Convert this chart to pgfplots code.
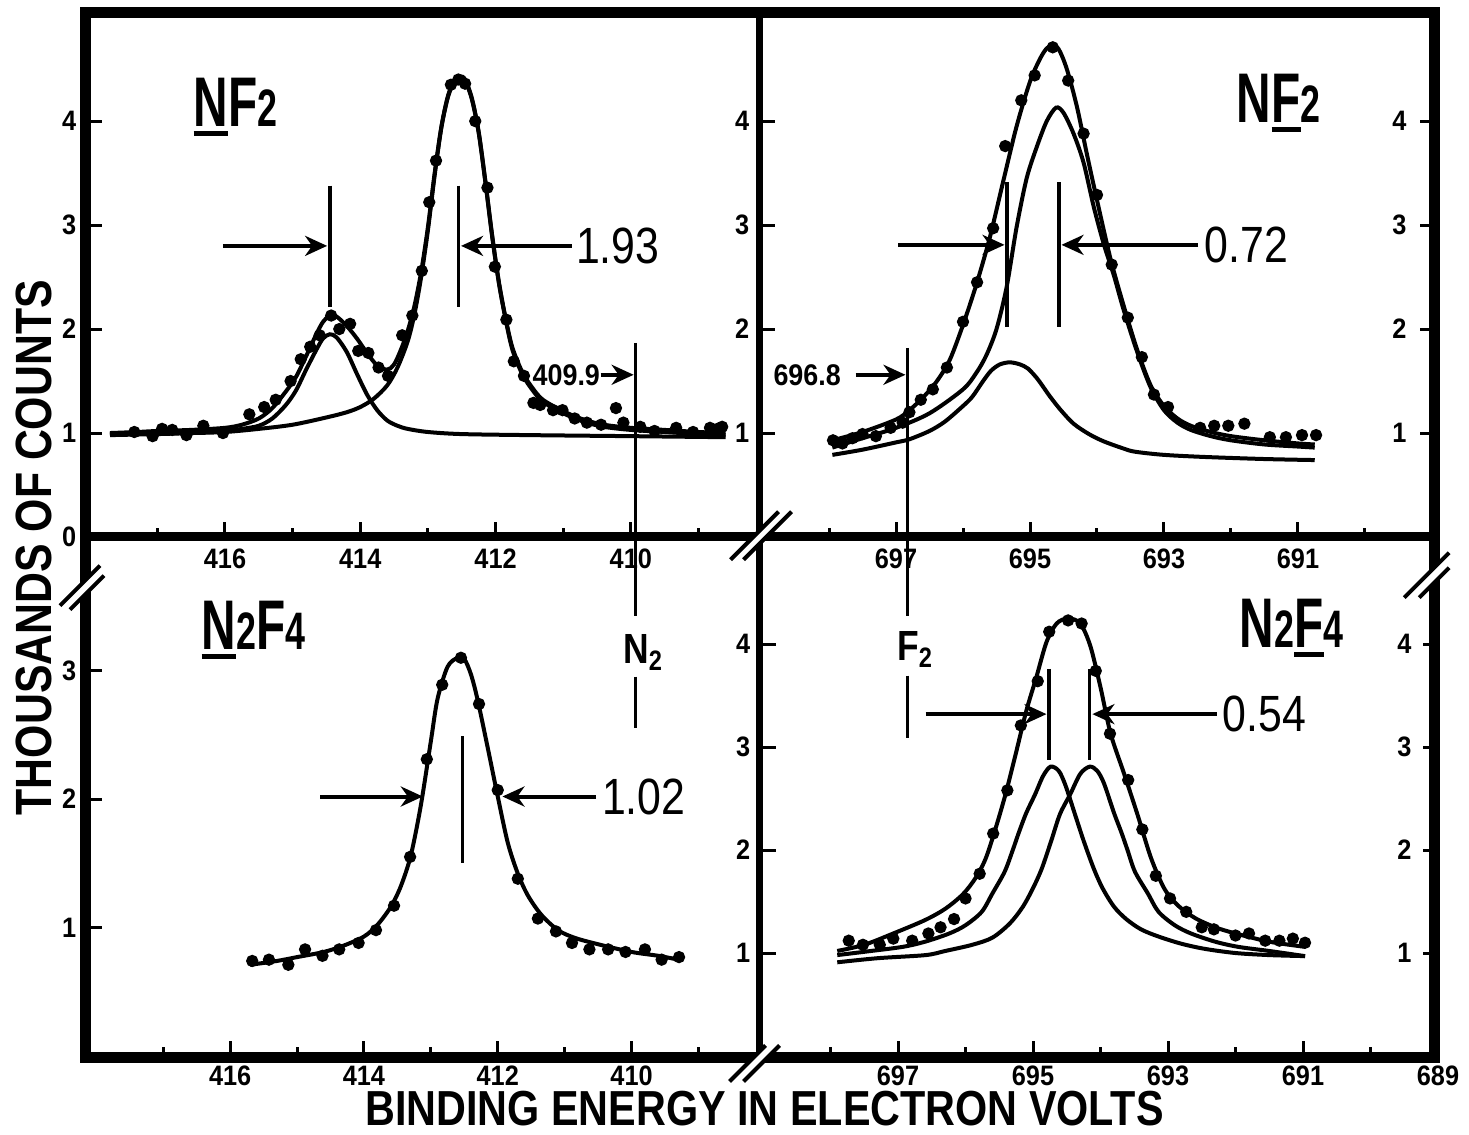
\documentclass[border=0pt]{standalone}
\usepackage{pgfplots}
\pgfplotsset{compat=1.18}
\usepackage{fontspec}
\setmainfont{Liberation Sans}
\newfontfamily\fTick[FakeStretch=0.9]{Liberation Sans}
\newfontfamily\fTitle[FakeStretch=0.68]{Liberation Sans}
\newfontfamily\fBig[FakeStretch=0.84]{Liberation Sans}
\usetikzlibrary{arrows.meta}
\newcommand\ul[1]{\setbox0\hbox{#1}\rlap{\rule[-0.09cm]{\wd0}{0.045cm}}\box0}
\newcommand\sm[1]{{\fontsize{15}{15}\selectfont #1}}
\tikzset{
  arr/.style={line width=0.04cm, -{Stealth[length=0.22cm,width=0.2cm,inset=0.07cm]}},
  ann/.style={line width=0.035cm},
}
\pgfplotsset{
  panel/.style={
    scale only axis, anchor=south west, x dir=reverse, clip=false,
    axis line style={draw=none},
    tick align=inside,
    major tick length=0.15cm, minor tick length=0.09cm,
    tick style={line width=0.03cm, black},
    xtick pos=left, ytick pos=left,
    /pgf/number format/assume math mode=true,
    tick label style={font=\fTick\bfseries\fontsize{8}{8}\selectfont, inner sep=0pt},
    xticklabel style={yshift=-0.11cm},
    yticklabel style={xshift=-0.1cm},
    scaled ticks=false,
  },
  curve/.style={black, line width=0.04cm, no markers, smooth, tension=0.5},
  dots/.style={only marks, mark=*, mark size=1.55pt, black},
}
\begin{document}
\begin{tikzpicture}
\path[use as bounding box] (0,0) rectangle (14.69,-11.34);

% ---------------- top left: NF2, N 1s
\begin{axis}[panel, at={(0.87cm,-5.37cm)}, width=6.73cm, height=5.24cm,
  xmin=408.09, xmax=418.04, ymin=0, ymax=5.04,
  xtick={410,412,414,416}, minor xtick={409,411,413,415,417},
  ytick={0,1,2,3,4}]
\addplot[curve] coordinates {(417.7,1.00)(417.3,1.01)(417.0,1.02)(416.5,1.03)(416.0,1.05)(415.75,1.08)(415.5,1.14)(415.3,1.24)(415.1,1.40)(414.95,1.54)(414.8,1.74)(414.65,1.95)(414.55,2.07)(414.45,2.13)(414.35,2.12)(414.2,2.03)(414.05,1.91)(413.9,1.77)(413.75,1.65)(413.6,1.61)(413.5,1.66)(413.4,1.80)(413.3,1.98)(413.2,2.22)(413.1,2.55)(413.0,2.98)(412.9,3.50)(412.8,3.95)(412.7,4.25)(412.6,4.40)(412.52,4.43)(412.45,4.40)(412.35,4.22)(412.25,3.90)(412.15,3.42)(412.05,2.90)(411.95,2.45)(411.85,2.10)(411.75,1.82)(411.6,1.58)(411.45,1.43)(411.3,1.32)(411.0,1.21)(410.7,1.13)(410.4,1.08)(410.0,1.05)(409.5,1.03)(409.0,1.01)(408.6,1.00)};
\addplot[curve] coordinates {(417.7,0.99)(417.0,1.00)(416.5,1.00)(416.0,1.01)(415.5,1.04)(415.0,1.08)(414.5,1.15)(414.2,1.20)(414.0,1.25)(413.8,1.33)(413.6,1.46)(413.45,1.63)(413.3,1.88)(413.2,2.14)(413.1,2.50)(413.0,2.95)(412.9,3.48)(412.8,3.94)(412.7,4.24)(412.6,4.39)(412.52,4.42)(412.45,4.39)(412.35,4.21)(412.25,3.89)(412.15,3.41)(412.05,2.89)(411.95,2.44)(411.85,2.09)(411.75,1.80)(411.6,1.56)(411.45,1.41)(411.3,1.30)(411.0,1.19)(410.7,1.11)(410.4,1.06)(410.0,1.03)(409.5,1.01)(409.0,0.99)(408.6,0.98)};
\addplot[curve] coordinates {(417.7,0.98)(417.0,0.99)(416.5,1.00)(416.0,1.02)(415.75,1.04)(415.5,1.07)(415.3,1.14)(415.1,1.27)(414.95,1.41)(414.8,1.61)(414.65,1.80)(414.55,1.91)(414.45,1.95)(414.35,1.92)(414.2,1.78)(414.05,1.57)(413.9,1.37)(413.75,1.22)(413.6,1.12)(413.45,1.07)(413.3,1.04)(413.0,1.01)(412.5,0.99)(411.5,0.98)(410.0,0.97)(408.6,0.96)};
\addplot[dots] coordinates {(417.34,1.01)(417.07,0.97)(416.93,1.04)(416.78,1.03)(416.57,0.98)(416.32,1.07)(416.03,1.00)(415.64,1.18)(415.42,1.25)(415.25,1.32)(415.03,1.50)(414.88,1.71)(414.74,1.83)(414.60,1.94)(414.43,2.13)(414.31,2.00)(414.15,2.05)(414.03,1.79)(413.88,1.77)(413.73,1.63)(413.59,1.55)(413.38,1.94)(413.23,2.13)(413.09,2.56)(412.98,3.22)(412.88,3.62)(412.66,4.35)(412.55,4.40)(412.45,4.36)(412.30,4.00)(412.12,3.36)(412.01,2.60)(411.84,2.09)(411.73,1.69)(411.58,1.55)(411.44,1.29)(411.34,1.27)(411.15,1.22)(411.01,1.22)(410.83,1.14)(410.65,1.10)(410.44,1.08)(410.22,1.24)(410.11,1.10)(409.86,1.06)(409.65,1.02)(409.33,1.05)(409.08,1.01)(408.83,1.05)(408.72,1.04)(408.65,1.06)};
\draw[ann] (axis cs:414.45,3.38) -- (axis cs:414.45,2.21);
\draw[ann] (axis cs:412.55,3.38) -- (axis cs:412.55,2.21);
\draw[arr] (axis cs:416.03,2.80) -- (axis cs:414.49,2.80);
\draw[arr] (axis cs:410.87,2.80) -- (axis cs:412.51,2.80);
\node[anchor=west, inner sep=0pt, font=\fBig\fontsize{14.5}{14.5}\selectfont] at (axis cs:410.82,2.80) {1.93};
\end{axis}

% ---------------- top right: NF2, F 1s
\begin{axis}[panel, at={(7.60cm,-5.37cm)}, width=6.75cm, height=5.24cm,
  xmin=688.955, xmax=699.03, ymin=0, ymax=5.04, ytick pos=both, yticklabel pos=left,
  xtick={691,693,695,697}, minor xtick={690,692,694,696,698},
  ytick={1,2,3,4}]
\addplot[curve] coordinates {(697.95,0.93)(697.5,1.01)(697.0,1.13)(696.8,1.22)(696.6,1.34)(696.4,1.49)(696.2,1.70)(696.0,2.04)(695.8,2.43)(695.6,2.88)(695.4,3.42)(695.2,3.95)(695.0,4.38)(694.85,4.60)(694.75,4.70)(694.66,4.73)(694.57,4.69)(694.45,4.50)(694.3,4.14)(694.15,3.68)(694.0,3.24)(693.8,2.68)(693.6,2.22)(693.4,1.80)(693.2,1.46)(693.0,1.26)(692.8,1.14)(692.6,1.07)(692.3,1.01)(692.0,0.97)(691.5,0.93)(691.0,0.90)(690.75,0.89)};
\addplot[curve] coordinates {(697.95,0.86)(697.5,0.95)(697.0,1.05)(696.5,1.19)(696.0,1.42)(695.8,1.58)(695.65,1.75)(695.5,2.00)(695.35,2.40)(695.2,2.98)(695.05,3.45)(694.9,3.75)(694.75,4.00)(694.61,4.13)(694.5,4.08)(694.35,3.88)(694.2,3.60)(694.05,3.18)(693.9,2.82)(693.75,2.52)(693.6,2.18)(693.4,1.78)(693.2,1.44)(693.0,1.22)(692.8,1.10)(692.6,1.03)(692.3,0.97)(692.0,0.93)(691.5,0.89)(691.0,0.87)(690.75,0.86)};
\addplot[curve] coordinates {(697.95,0.79)(697.5,0.84)(697.0,0.91)(696.8,0.94)(696.5,1.02)(696.27,1.11)(696.0,1.26)(695.86,1.35)(695.7,1.50)(695.58,1.60)(695.45,1.66)(695.3,1.68)(695.15,1.66)(695.03,1.62)(694.9,1.53)(694.82,1.46)(694.7,1.35)(694.54,1.22)(694.35,1.09)(694.12,0.99)(693.9,0.92)(693.6,0.85)(693.43,0.82)(693.0,0.79)(692.4,0.77)(691.5,0.75)(690.75,0.74)};
\addplot[dots] coordinates {(697.94,0.93)(697.80,0.90)(697.65,0.95)(697.50,0.99)(697.30,0.97)(697.08,1.05)(696.90,1.10)(696.80,1.20)(696.63,1.32)(696.45,1.42)(696.24,1.63)(696.00,2.07)(695.79,2.45)(695.55,2.97)(695.37,3.76)(695.13,4.20)(694.93,4.44)(694.66,4.71)(694.43,4.39)(694.20,3.88)(694.00,3.29)(693.78,2.62)(693.54,2.11)(693.33,1.73)(693.15,1.37)(692.94,1.25)(692.46,1.05)(692.25,1.07)(692.04,1.07)(691.80,1.09)(691.42,0.96)(691.18,0.96)(690.94,0.98)(690.73,0.98)};
\draw[ann] (axis cs:695.34,3.41) -- (axis cs:695.34,2.02);
\draw[ann] (axis cs:694.57,3.41) -- (axis cs:694.57,2.02);
\draw[arr] (axis cs:696.97,2.81) -- (axis cs:695.38,2.81);
\draw[arr] (axis cs:692.49,2.81) -- (axis cs:694.53,2.81);
\node[anchor=west, inner sep=0pt, font=\fBig\fontsize{14.5}{14.5}\selectfont] at (axis cs:692.40,2.81) {0.72};
\end{axis}

% ---------------- bottom left: N2F4, N 1s
\begin{axis}[panel, at={(0.87cm,-10.56cm)}, width=6.73cm, height=5.19cm,
  xmin=408.08, xmax=418.14, ymin=0, ymax=4.04,
  xtick={410,412,414,416}, minor xtick={409,411,413,415,417},
  ytick={1,2,3}, xticklabel style={yshift=0.02cm}]
\addplot[curve] coordinates {(415.7,0.71)(415.3,0.74)(415.0,0.77)(414.6,0.81)(414.3,0.86)(414.0,0.93)(413.8,1.02)(413.6,1.16)(413.45,1.32)(413.3,1.56)(413.15,1.95)(413.0,2.45)(412.9,2.78)(412.75,3.03)(412.6,3.10)(412.5,3.09)(412.4,2.97)(412.3,2.77)(412.15,2.40)(412.0,2.02)(411.85,1.66)(411.7,1.42)(411.55,1.25)(411.35,1.10)(411.1,0.98)(410.85,0.92)(410.5,0.87)(410.0,0.81)(409.6,0.78)(409.3,0.75)};
\addplot[dots] coordinates {(415.67,0.74)(415.42,0.75)(415.13,0.71)(414.88,0.83)(414.62,0.78)(414.37,0.83)(414.08,0.88)(413.82,0.98)(413.55,1.17)(413.31,1.55)(413.06,2.31)(412.83,2.89)(412.55,3.10)(412.28,2.74)(412.00,2.07)(411.70,1.38)(411.40,1.07)(411.13,0.97)(410.89,0.88)(410.63,0.83)(410.35,0.83)(410.09,0.81)(409.80,0.83)(409.55,0.75)(409.29,0.77)};
\draw[ann] (axis cs:412.53,2.49) -- (axis cs:412.53,1.50);
\draw[arr] (axis cs:414.65,2.02) -- (axis cs:413.12,2.02);
\draw[arr] (axis cs:410.53,2.02) -- (axis cs:411.93,2.02);
\node[anchor=west, inner sep=0pt, font=\fBig\fontsize{14.5}{14.5}\selectfont] at (axis cs:410.45,2.02) {1.02};
\end{axis}

% ---------------- bottom right: N2F4, F 1s
\begin{axis}[panel, at={(7.61cm,-10.56cm)}, width=6.77cm, height=5.19cm,
  xmin=689, xmax=699.03, ymin=0, ymax=5.04, ytick pos=both, yticklabel pos=left,
  xtick={689,691,693,695,697}, minor xtick={690,692,694,696,698},
  ytick={1,2,3,4}, xticklabel style={yshift=0.02cm}]
\addplot[curve] coordinates {(697.9,1.02)(697.5,1.08)(697.07,1.19)(696.6,1.32)(696.3,1.43)(696.04,1.57)(695.85,1.73)(695.7,1.92)(695.55,2.22)(695.4,2.56)(695.25,2.95)(695.1,3.35)(694.95,3.68)(694.8,4.02)(694.65,4.20)(694.48,4.25)(694.3,4.20)(694.15,3.98)(694.0,3.58)(693.85,3.13)(693.65,2.74)(693.45,2.34)(693.25,1.92)(693.05,1.62)(692.85,1.46)(692.6,1.34)(692.3,1.25)(692.0,1.19)(691.5,1.11)(690.97,1.06)};
\addplot[curve] coordinates {(697.9,0.98)(697.4,1.02)(696.93,1.06)(696.6,1.11)(696.24,1.19)(696.0,1.27)(695.76,1.40)(695.6,1.58)(695.42,1.79)(695.3,2.00)(695.21,2.17)(695.1,2.36)(694.97,2.54)(694.85,2.72)(694.74,2.81)(694.62,2.77)(694.52,2.63)(694.38,2.35)(694.25,2.09)(694.1,1.82)(693.97,1.63)(693.8,1.45)(693.62,1.33)(693.4,1.23)(693.14,1.16)(692.8,1.09)(692.45,1.04)(692.0,1.00)(691.5,0.98)(690.97,0.97)};
\addplot[curve] coordinates {(697.9,0.91)(697.3,0.95)(696.59,0.98)(696.3,1.02)(695.9,1.08)(695.6,1.15)(695.34,1.29)(695.15,1.45)(695.0,1.63)(694.87,1.82)(694.73,2.09)(694.6,2.35)(694.45,2.54)(694.3,2.74)(694.16,2.81)(694.05,2.77)(693.95,2.65)(693.8,2.36)(693.69,2.17)(693.6,2.00)(693.49,1.79)(693.3,1.58)(693.14,1.40)(692.9,1.27)(692.66,1.19)(692.3,1.11)(691.96,1.06)(691.5,1.02)(690.97,0.97)};
\addplot[dots] coordinates {(697.73,1.12)(697.52,1.08)(697.27,1.08)(697.07,1.14)(696.79,1.12)(696.55,1.19)(696.37,1.25)(696.17,1.33)(696.00,1.53)(695.79,1.77)(695.59,2.16)(695.38,2.58)(695.18,3.21)(694.93,3.64)(694.76,4.12)(694.48,4.23)(694.28,4.20)(694.07,3.74)(693.86,3.13)(693.59,2.68)(693.38,2.20)(693.18,1.75)(692.97,1.53)(692.73,1.40)(692.50,1.25)(692.32,1.23)(692.00,1.17)(691.80,1.19)(691.56,1.12)(691.35,1.12)(691.15,1.14)(690.97,1.10)};
\draw[ann] (axis cs:694.76,3.76) -- (axis cs:694.76,2.87);
\draw[ann] (axis cs:694.16,3.76) -- (axis cs:694.16,2.87);
\draw[arr] (axis cs:696.59,3.32) -- (axis cs:694.80,3.32);
\draw[arr] (axis cs:692.28,3.32) -- (axis cs:694.12,3.32);
\node[anchor=west, inner sep=0pt, font=\fBig\fontsize{14.5}{14.5}\selectfont] at (axis cs:692.20,3.32) {0.54};
\end{axis}

% ---------------- frame, breaks and text (pixel units, origin top left)
\begin{scope}[x=0.01cm, y=-0.01cm]
\draw[line width=0.11cm] (86,13) rectangle (1435,1058);
\draw[line width=0.09cm] (86,537) -- (1435,537);
\draw[line width=0.065cm] (760,13) -- (760,1058);
% breaks
\draw[white, line width=0.085cm] (737.5,560) -- (785.5,512);
\draw[line width=0.04cm] (731,560) -- (779,512) (744,560) -- (792,512);
\draw[white, line width=0.085cm] (65,608) -- (104,569);
\draw[line width=0.04cm] (60,606) -- (100,566) (70,610) -- (104,576);
\draw[white, line width=0.085cm] (1412,598.5) -- (1450,560.5);
\draw[line width=0.04cm] (1405,598) -- (1450,553) (1420,598) -- (1450,568);
\draw[white, line width=0.085cm] (737,1082) -- (773,1046);
\draw[line width=0.04cm] (730,1082) -- (766,1046) (744,1082) -- (780,1046);
% right side tick labels (inside the frame)
\foreach \k in {1,2,3,4} {
  \node[anchor=east, inner sep=0pt, font=\fTick\bfseries\fontsize{8}{8}\selectfont] at (1408,{537-104*\k}) {\k};
  \node[anchor=east, inner sep=0pt, font=\fTick\bfseries\fontsize{8}{8}\selectfont] at (1413,{1056-103*\k}) {\k};
}
% reference lines for N2 and F2
\draw[ann] (636,343) -- (636,616);
\draw[ann] (636,677) -- (636,728);
\draw[ann] (908,348) -- (908,616);
\draw[ann] (908,676) -- (908,738);
\node[anchor=east, inner sep=0pt, font=\fTick\bfseries\fontsize{8.5}{8.5}\selectfont] at (601,375) {409.9};
\draw[arr] (601,375) -- (634,375);
\node[anchor=east, inner sep=0pt, font=\fTick\bfseries\fontsize{8.5}{8.5}\selectfont] at (842,375) {696.8};
\draw[arr] (856,375) -- (906,375);
\node[anchor=west, inner sep=0pt, font=\fBig\bfseries\fontsize{12}{12}\selectfont] at (623,653) {N\textsubscript{2}};
\node[anchor=west, inner sep=0pt, font=\fBig\bfseries\fontsize{12}{12}\selectfont] at (897,650) {F\textsubscript{2}};
% panel titles
\node[anchor=base west, inner sep=0pt, font=\fTitle\bfseries\fontsize{20}{20}\selectfont] at (193,127) {\ul{N}F\sm{2}};
\node[anchor=base west, inner sep=0pt, font=\fTitle\bfseries\fontsize{20}{20}\selectfont] at (1237,123) {N\ul{F}\sm{2}};
\node[anchor=base west, inner sep=0pt, font=\fTitle\bfseries\fontsize{20}{20}\selectfont] at (201,650) {\ul{N}\sm{2}F\sm{4}};
\node[anchor=base west, inner sep=0pt, font=\fTitle\bfseries\fontsize{20}{20}\selectfont] at (1240,648) {N\sm{2}\ul{F}\sm{4}};
% axis titles
\node[rotate=90, inner sep=0pt, font=\fBig\bfseries\fontsize{14.5}{14.5}\selectfont] at (34,548) {THOUSANDS OF COUNTS};
\node[anchor=base, inner sep=0pt, font=\fBig\bfseries\fontsize{14}{14}\selectfont] at (765,1126) {BINDING ENERGY IN ELECTRON VOLTS};
\end{scope}
\end{tikzpicture}
\end{document}
